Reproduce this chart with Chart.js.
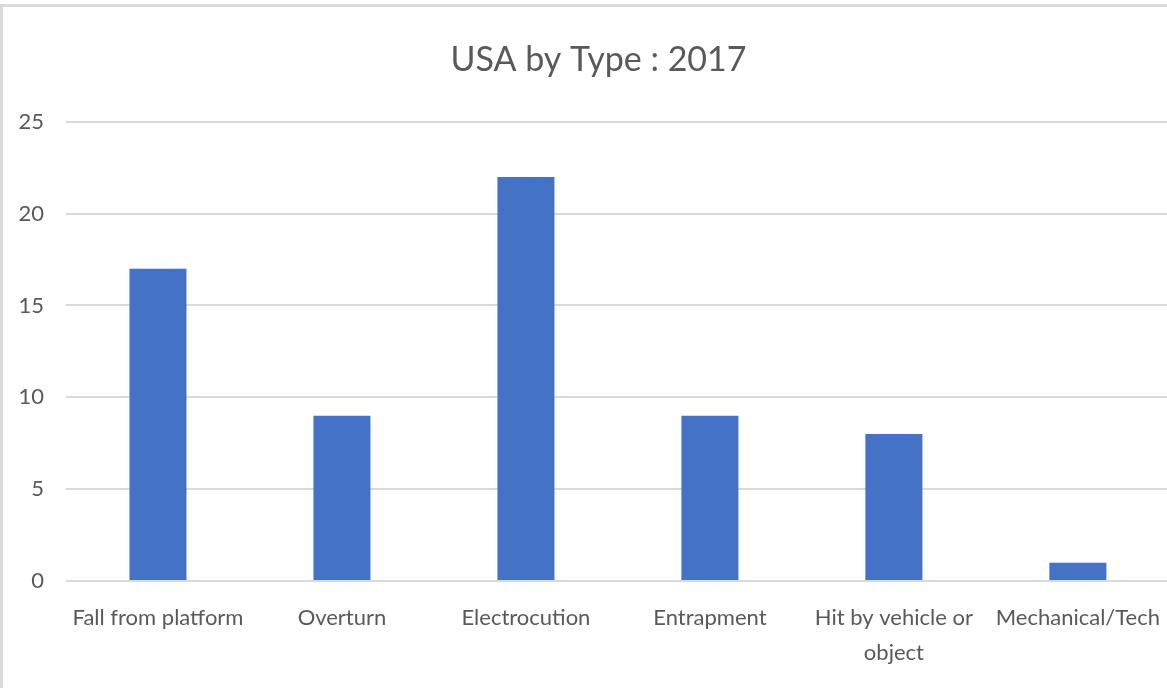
<!DOCTYPE html>
<html>
<head>
<meta charset="utf-8">
<script src="https://cdn.jsdelivr.net/npm/chart.js@4"></script>
<style>
  html, body { margin: 0; padding: 0; background: #fff; overflow: hidden; }
  #frame { position: absolute; left: 0; top: 4px; width: 1200px; height: 720px; border: 3px solid #d9d9d9; box-sizing: border-box; }
  #myChart { position: absolute; left: 0; top: 0; }
</style>
</head>
<body>
<div id="frame"></div>
<canvas id="myChart" width="1171" height="688"></canvas>
<script>
const categories = ["Fall from platform", "Overturn", "Electrocution", "Entrapment", ["Hit by vehicle or", "object"], "Mechanical/Tech"]
const values = [17, 9, 22, 9, 8, 1]
const yTicks = [0, 5, 10, 15, 20, 25]

const ctx = document.getElementById('myChart')
const grey = '#595959'

// title in the original sits a bit right of the canvas centre
const nudgeTitle = {
    id: 'nudgeTitle',
    afterLayout(chart) {
        const t = chart.titleBlock
        if (t) { t.left += 13; t.right += 13 }
    }
}

new Chart(ctx, {
    type: 'bar',
    data: {
        labels: categories,
        datasets: [{
            label: 'USA by Type : 2017',
            data: values,
            backgroundColor: '#4472c4',
            borderWidth: 0,
            categoryPercentage: 1,
            barPercentage: 0.31
        }]
    },
    options: {
        responsive: false,
        animation: false,
        layout: { padding: 0 },
        plugins: {
            legend: { display: false },
            tooltip: { enabled: false },
            title: {
                display: true,
                text: 'USA by Type : 2017',
                color: grey,
                font: { family: 'Lato', size: 34, weight: 'normal' },
                padding: { top: 40, bottom: 41 }
            }
        },
        scales: {
            x: {
                grid: { display: false },
                border: { display: false },
                ticks: {
                    color: grey,
                    font: { family: 'Lato', size: 22, lineHeight: 1.6 },
                    padding: 11,
                    maxRotation: 0,
                    autoSkip: false
                },
                afterFit: (scale) => { scale.height = 107 }
            },
            y: {
                min: 0,
                max: 25,
                afterBuildTicks: (scale) => { scale.ticks = yTicks.map(v => ({ value: v })) },
                grid: { color: '#d9d9d9', lineWidth: 2, drawTicks: false },
                border: { display: false },
                ticks: {
                    color: grey,
                    font: { family: 'Lato', size: 22 },
                    padding: 22
                },
                afterFit: (scale) => { scale.width = 66 }
            }
        }
    },
    plugins: [nudgeTitle]
})
</script>
</body>
</html>
